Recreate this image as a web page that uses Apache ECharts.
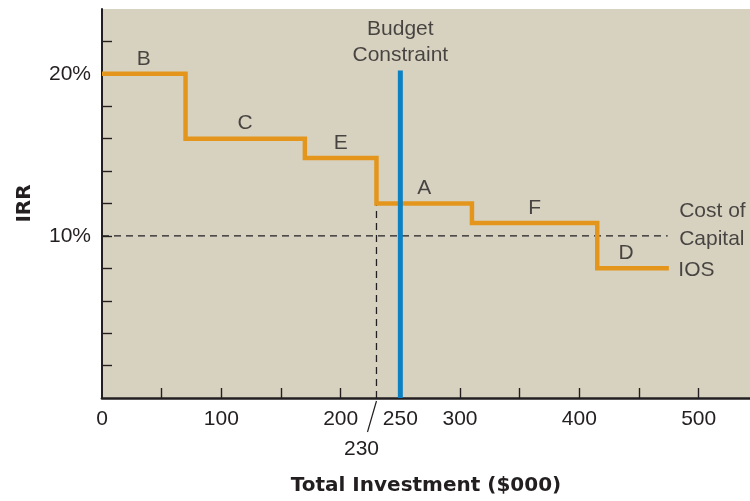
<!DOCTYPE html>
<html>
<head>
<meta charset="utf-8">
<script src="https://cdn.jsdelivr.net/npm/echarts@6/dist/echarts.min.js"></script>
<style>
  html, body { margin: 0; padding: 0; background: #ffffff; }
  #chart { width: 750px; height: 501px; }
</style>
</head>
<body>
<div id="chart"></div>
<script>
// Investment opportunity schedule: each project spans [start, end] of
// cumulative investment ($000) and earns the given IRR (%).
const projects = ['B', 'C', 'E', 'A', 'F', 'D'];
const projectStart = [0, 70, 170, 230, 310, 415];
const projectEnd = [70, 170, 230, 310, 415, 475];
const projectIRR = [20, 16, 14.8, 12, 10.8, 8];

// Reference lines
const costOfCapital = 10;
const costLineEnd = 474;
const budget = 250;
const budgetTop = 20.2;
const cutoff = 230;

// Axis ticks and labels
const xTicks = [50, 100, 150, 200, 250, 300, 350, 400, 450, 500];
const xLabels = [0, 100, 200, 250, 300, 400, 500];
const yTicks = [2, 4, 6, 8, 10, 12, 14, 16, 18, 20, 22];
const yLabels = [10, 20];

const INK = '#231f20';
const ORANGE = '#e4961c';
const BLUE = '#0b80c2';
const FONT = "'Liberation Sans', Arial, sans-serif";
const BOLD_FONT = "'DejaVu Sans', sans-serif";

// Step path of the IOS curve
const iosPath = [];
projects.forEach((p, i) => {
  iosPath.push([projectStart[i], projectIRR[i]]);
  iosPath.push([projectEnd[i], projectIRR[i]]);
});

// Project letters sit above the middle of each step
const projectLabels = projects.map((p, i) => ({
  value: [(projectStart[i] + projectEnd[i]) / 2, projectIRR[i]],
  label: { formatter: p, position: 'inside', offset: [i === projects.length - 1 ? -7 : 0, -15] }
}));

const last = projects.length - 1;
const annotations = projectLabels.concat([
  {
    value: [budget, budgetTop],
    label: { formatter: 'Budget\nConstraint', position: 'top', distance: 2, lineHeight: 26, align: 'center' }
  },
  {
    value: [costLineEnd, costOfCapital],
    label: { formatter: 'Cost of\nCapital', position: 'right', distance: 11, offset: [0, -11], lineHeight: 28, align: 'left' }
  },
  {
    value: [projectEnd[last], projectIRR[last]],
    label: { formatter: 'IOS', position: 'right', distance: 9, offset: [0, 2], align: 'left' }
  }
]);

const chart = echarts.init(document.getElementById('chart'), null, { renderer: 'canvas' });

const dashed = { color: INK, width: 1.3, type: [7, 5] };

chart.setOption({
  animation: false,
  backgroundColor: '#ffffff',
  textStyle: { fontFamily: FONT },
  grid: {
    left: 102, right: 0, top: 9, bottom: 100,
    show: true, backgroundColor: '#d7d2c0', borderWidth: 0,
    containLabel: false
  },
  xAxis: {
    type: 'value', min: 0, max: 543,
    name: 'Total Investment ($000)',
    nameLocation: 'middle', nameGap: 78,
    nameTextStyle: { fontFamily: BOLD_FONT, fontWeight: 'bold', fontSize: 20, color: INK },
    splitLine: { show: false },
    axisLine: { show: true, onZero: false, lineStyle: { color: INK, width: 2.7 } },
    axisTick: { show: true, inside: true, length: 10, customValues: xTicks, lineStyle: { color: INK, width: 1.4 } },
    axisLabel: { show: true, customValues: xLabels, margin: 11, fontSize: 21, color: INK, fontFamily: FONT }
  },
  yAxis: {
    type: 'value', min: 0, max: 24,
    name: 'IRR',
    nameLocation: 'middle', nameGap: 67, nameRotate: 90,
    nameTextStyle: { fontFamily: BOLD_FONT, fontWeight: 'bold', fontSize: 20, color: INK },
    splitLine: { show: false },
    axisLine: { show: true, onZero: false, lineStyle: { color: INK, width: 2 } },
    axisTick: { show: true, inside: true, length: 10, customValues: yTicks, lineStyle: { color: INK, width: 1.4 } },
    axisLabel: { show: true, customValues: yLabels, margin: 11, fontSize: 21, color: INK, fontFamily: FONT,
      formatter: v => v + '%' }
  },
  series: [
    {
      name: 'Cost of Capital', type: 'line', symbol: 'none', silent: true,
      data: [[0, costOfCapital], [costLineEnd, costOfCapital]],
      lineStyle: dashed, z: 2
    },
    {
      name: 'Cutoff', type: 'line', symbol: 'none', silent: true,
      data: [[cutoff, 0], [cutoff, projectIRR[projectStart.indexOf(cutoff)]]],
      lineStyle: dashed, z: 2
    },
    {
      name: 'IOS', type: 'line', symbol: 'none', silent: true,
      data: iosPath,
      lineStyle: { color: ORANGE, width: 4.5, cap: 'butt', join: 'miter' }, z: 3
    },
    {
      name: 'Budget Constraint', type: 'line', symbol: 'none', silent: true,
      data: [[budget, 0], [budget, budgetTop]],
      lineStyle: { color: BLUE, width: 5, cap: 'butt' }, z: 4
    },
    {
      name: 'Labels', type: 'scatter', silent: true,
      symbol: 'circle', symbolSize: 1,
      itemStyle: { color: 'rgba(0,0,0,0)' },
      label: { show: true, color: INK, fontSize: 21, fontFamily: FONT },
      data: annotations, z: 5
    }
  ]
});

// Leader from the cutoff dashed line to its value below the axis
const base = chart.convertToPixel({ gridIndex: 0 }, [cutoff, 0]);
chart.setOption({
  graphic: [
    {
      type: 'line', silent: true, z: 10,
      shape: { x1: base[0], y1: base[1] + 3, x2: base[0] - 9, y2: base[1] + 34 },
      style: { stroke: INK, lineWidth: 1.2 }
    },
    {
      type: 'text', silent: true, z: 10,
      x: base[0] - 15, y: base[1] + 51,
      style: { text: String(cutoff), fill: INK, font: '21px ' + FONT, align: 'center', verticalAlign: 'middle' }
    }
  ]
});
</script>
</body>
</html>
